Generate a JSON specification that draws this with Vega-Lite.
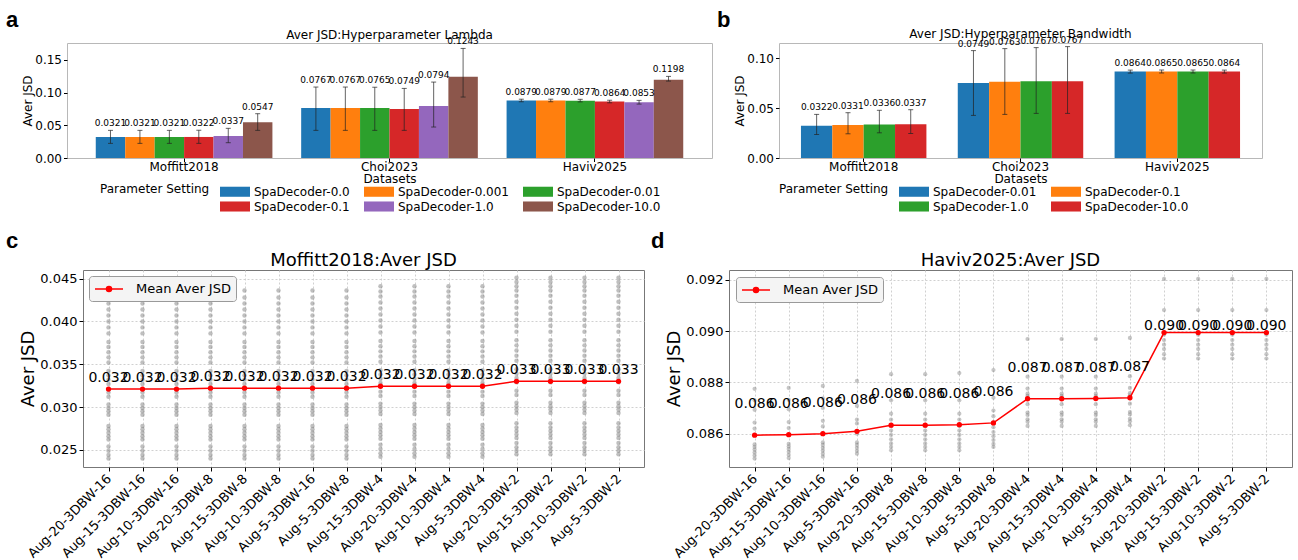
{
"$schema":"https://vega.github.io/schema/vega-lite/v6.json",
"padding":{"left":6,"top":9,"right":0,"bottom":0},
"background":"white",
"datasets":{
"a":[
{"ds":"Moffitt2018","set":"SpaDecoder-0.0","v":0.0321,"lo":0.0224,"hi":0.0423},
{"ds":"Moffitt2018","set":"SpaDecoder-0.001","v":0.0321,"lo":0.0224,"hi":0.0423},
{"ds":"Moffitt2018","set":"SpaDecoder-0.01","v":0.0321,"lo":0.0224,"hi":0.0423},
{"ds":"Moffitt2018","set":"SpaDecoder-0.1","v":0.0322,"lo":0.0224,"hi":0.0425},
{"ds":"Moffitt2018","set":"SpaDecoder-1.0","v":0.0337,"lo":0.0234,"hi":0.0454},
{"ds":"Moffitt2018","set":"SpaDecoder-10.0","v":0.0547,"lo":0.0423,"hi":0.0678},
{"ds":"Choi2023","set":"SpaDecoder-0.0","v":0.0767,"lo":0.0423,"hi":0.1086},
{"ds":"Choi2023","set":"SpaDecoder-0.001","v":0.0767,"lo":0.0423,"hi":0.1086},
{"ds":"Choi2023","set":"SpaDecoder-0.01","v":0.0765,"lo":0.0423,"hi":0.1083},
{"ds":"Choi2023","set":"SpaDecoder-0.1","v":0.0749,"lo":0.0423,"hi":0.1065},
{"ds":"Choi2023","set":"SpaDecoder-1.0","v":0.0794,"lo":0.0474,"hi":0.1162},
{"ds":"Choi2023","set":"SpaDecoder-10.0","v":0.1243,"lo":0.0933,"hi":0.1677},
{"ds":"Haviv2025","set":"SpaDecoder-0.0","v":0.0879,"lo":0.0861,"hi":0.09},
{"ds":"Haviv2025","set":"SpaDecoder-0.001","v":0.0879,"lo":0.0861,"hi":0.09},
{"ds":"Haviv2025","set":"SpaDecoder-0.01","v":0.0877,"lo":0.0859,"hi":0.0898},
{"ds":"Haviv2025","set":"SpaDecoder-0.1","v":0.0864,"lo":0.0845,"hi":0.0884},
{"ds":"Haviv2025","set":"SpaDecoder-1.0","v":0.0853,"lo":0.0825,"hi":0.0882},
{"ds":"Haviv2025","set":"SpaDecoder-10.0","v":0.1198,"lo":0.1177,"hi":0.1249}
],
"b":[
{"ds":"Moffitt2018","set":"SpaDecoder-0.01","v":0.0322,"lo":0.0235,"hi":0.0436},
{"ds":"Moffitt2018","set":"SpaDecoder-0.1","v":0.0331,"lo":0.0242,"hi":0.0453},
{"ds":"Moffitt2018","set":"SpaDecoder-1.0","v":0.0336,"lo":0.0252,"hi":0.0477},
{"ds":"Moffitt2018","set":"SpaDecoder-10.0","v":0.0337,"lo":0.0245,"hi":0.0483},
{"ds":"Choi2023","set":"SpaDecoder-0.01","v":0.0749,"lo":0.0426,"hi":0.1074},
{"ds":"Choi2023","set":"SpaDecoder-0.1","v":0.0763,"lo":0.0436,"hi":0.1094},
{"ds":"Choi2023","set":"SpaDecoder-1.0","v":0.0767,"lo":0.0446,"hi":0.1104},
{"ds":"Choi2023","set":"SpaDecoder-10.0","v":0.0767,"lo":0.0446,"hi":0.1114},
{"ds":"Haviv2025","set":"SpaDecoder-0.01","v":0.0864,"lo":0.0849,"hi":0.0879},
{"ds":"Haviv2025","set":"SpaDecoder-0.1","v":0.0865,"lo":0.085,"hi":0.088},
{"ds":"Haviv2025","set":"SpaDecoder-1.0","v":0.0865,"lo":0.085,"hi":0.088},
{"ds":"Haviv2025","set":"SpaDecoder-10.0","v":0.0864,"lo":0.0849,"hi":0.0879}
],
"cm":[
{"k":"Aug-20-3DBW-16","v":0.0321},{"k":"Aug-15-3DBW-16","v":0.0321},{"k":"Aug-10-3DBW-16","v":0.0321},{"k":"Aug-20-3DBW-8","v":0.0322},{"k":"Aug-15-3DBW-8","v":0.0322},{"k":"Aug-10-3DBW-8","v":0.0322},{"k":"Aug-5-3DBW-16","v":0.0322},{"k":"Aug-5-3DBW-8","v":0.0322},{"k":"Aug-15-3DBW-4","v":0.03243},{"k":"Aug-20-3DBW-4","v":0.03243},{"k":"Aug-10-3DBW-4","v":0.03243},{"k":"Aug-5-3DBW-4","v":0.03243},{"k":"Aug-20-3DBW-2","v":0.033},{"k":"Aug-15-3DBW-2","v":0.033},{"k":"Aug-10-3DBW-2","v":0.033},{"k":"Aug-5-3DBW-2","v":0.033}
],
"dm":[
{"k":"Aug-20-3DBW-16","v":0.08594},{"k":"Aug-15-3DBW-16","v":0.08596},{"k":"Aug-10-3DBW-16","v":0.086},{"k":"Aug-5-3DBW-16","v":0.08609},{"k":"Aug-20-3DBW-8","v":0.08633},{"k":"Aug-15-3DBW-8","v":0.08633},{"k":"Aug-10-3DBW-8","v":0.08635},{"k":"Aug-5-3DBW-8","v":0.08642},{"k":"Aug-20-3DBW-4","v":0.08736},{"k":"Aug-15-3DBW-4","v":0.08736},{"k":"Aug-10-3DBW-4","v":0.08737},{"k":"Aug-5-3DBW-4","v":0.0874},{"k":"Aug-20-3DBW-2","v":0.08994},{"k":"Aug-15-3DBW-2","v":0.08994},{"k":"Aug-10-3DBW-2","v":0.08994},{"k":"Aug-5-3DBW-2","v":0.08994}
],
"cp":[
{"k":"Aug-20-3DBW-16","v":0.024},{"k":"Aug-20-3DBW-16","v":0.0244},{"k":"Aug-20-3DBW-16","v":0.0249},{"k":"Aug-20-3DBW-16","v":0.0254},{"k":"Aug-20-3DBW-16","v":0.0262},{"k":"Aug-20-3DBW-16","v":0.0266},{"k":"Aug-20-3DBW-16","v":0.027},{"k":"Aug-20-3DBW-16","v":0.0274},{"k":"Aug-20-3DBW-16","v":0.0278},{"k":"Aug-20-3DBW-16","v":0.0291},{"k":"Aug-20-3DBW-16","v":0.0295},{"k":"Aug-20-3DBW-16","v":0.0299},{"k":"Aug-20-3DBW-16","v":0.0303},{"k":"Aug-20-3DBW-16","v":0.0312},{"k":"Aug-20-3DBW-16","v":0.0317},{"k":"Aug-20-3DBW-16","v":0.0327},{"k":"Aug-20-3DBW-16","v":0.0332},{"k":"Aug-20-3DBW-16","v":0.0337},{"k":"Aug-20-3DBW-16","v":0.0342},{"k":"Aug-20-3DBW-16","v":0.0352},{"k":"Aug-20-3DBW-16","v":0.0358},{"k":"Aug-20-3DBW-16","v":0.0364},{"k":"Aug-20-3DBW-16","v":0.037},{"k":"Aug-20-3DBW-16","v":0.0376},{"k":"Aug-20-3DBW-16","v":0.0386},{"k":"Aug-20-3DBW-16","v":0.0393},{"k":"Aug-20-3DBW-16","v":0.04},{"k":"Aug-20-3DBW-16","v":0.0407},{"k":"Aug-20-3DBW-16","v":0.0414},{"k":"Aug-20-3DBW-16","v":0.0421},
{"k":"Aug-15-3DBW-16","v":0.024},{"k":"Aug-15-3DBW-16","v":0.0244},{"k":"Aug-15-3DBW-16","v":0.0249},{"k":"Aug-15-3DBW-16","v":0.0254},{"k":"Aug-15-3DBW-16","v":0.0262},{"k":"Aug-15-3DBW-16","v":0.0266},{"k":"Aug-15-3DBW-16","v":0.027},{"k":"Aug-15-3DBW-16","v":0.0274},{"k":"Aug-15-3DBW-16","v":0.0278},{"k":"Aug-15-3DBW-16","v":0.0291},{"k":"Aug-15-3DBW-16","v":0.0295},{"k":"Aug-15-3DBW-16","v":0.0299},{"k":"Aug-15-3DBW-16","v":0.0303},{"k":"Aug-15-3DBW-16","v":0.0312},{"k":"Aug-15-3DBW-16","v":0.0317},{"k":"Aug-15-3DBW-16","v":0.0327},{"k":"Aug-15-3DBW-16","v":0.0332},{"k":"Aug-15-3DBW-16","v":0.0337},{"k":"Aug-15-3DBW-16","v":0.0342},{"k":"Aug-15-3DBW-16","v":0.0352},{"k":"Aug-15-3DBW-16","v":0.0358},{"k":"Aug-15-3DBW-16","v":0.0364},{"k":"Aug-15-3DBW-16","v":0.037},{"k":"Aug-15-3DBW-16","v":0.0376},{"k":"Aug-15-3DBW-16","v":0.0386},{"k":"Aug-15-3DBW-16","v":0.0393},{"k":"Aug-15-3DBW-16","v":0.04},{"k":"Aug-15-3DBW-16","v":0.0407},{"k":"Aug-15-3DBW-16","v":0.0414},{"k":"Aug-15-3DBW-16","v":0.0421},
{"k":"Aug-10-3DBW-16","v":0.024},{"k":"Aug-10-3DBW-16","v":0.0244},{"k":"Aug-10-3DBW-16","v":0.0249},{"k":"Aug-10-3DBW-16","v":0.0254},{"k":"Aug-10-3DBW-16","v":0.0262},{"k":"Aug-10-3DBW-16","v":0.0266},{"k":"Aug-10-3DBW-16","v":0.027},{"k":"Aug-10-3DBW-16","v":0.0274},{"k":"Aug-10-3DBW-16","v":0.0278},{"k":"Aug-10-3DBW-16","v":0.0291},{"k":"Aug-10-3DBW-16","v":0.0295},{"k":"Aug-10-3DBW-16","v":0.0299},{"k":"Aug-10-3DBW-16","v":0.0303},{"k":"Aug-10-3DBW-16","v":0.0312},{"k":"Aug-10-3DBW-16","v":0.0317},{"k":"Aug-10-3DBW-16","v":0.0327},{"k":"Aug-10-3DBW-16","v":0.0332},{"k":"Aug-10-3DBW-16","v":0.0337},{"k":"Aug-10-3DBW-16","v":0.0342},{"k":"Aug-10-3DBW-16","v":0.0352},{"k":"Aug-10-3DBW-16","v":0.0358},{"k":"Aug-10-3DBW-16","v":0.0364},{"k":"Aug-10-3DBW-16","v":0.037},{"k":"Aug-10-3DBW-16","v":0.0376},{"k":"Aug-10-3DBW-16","v":0.0386},{"k":"Aug-10-3DBW-16","v":0.0393},{"k":"Aug-10-3DBW-16","v":0.04},{"k":"Aug-10-3DBW-16","v":0.0407},{"k":"Aug-10-3DBW-16","v":0.0414},{"k":"Aug-10-3DBW-16","v":0.0421},
{"k":"Aug-20-3DBW-8","v":0.024},{"k":"Aug-20-3DBW-8","v":0.0244},{"k":"Aug-20-3DBW-8","v":0.0249},{"k":"Aug-20-3DBW-8","v":0.0254},{"k":"Aug-20-3DBW-8","v":0.0262},{"k":"Aug-20-3DBW-8","v":0.0266},{"k":"Aug-20-3DBW-8","v":0.027},{"k":"Aug-20-3DBW-8","v":0.0274},{"k":"Aug-20-3DBW-8","v":0.0278},{"k":"Aug-20-3DBW-8","v":0.0291},{"k":"Aug-20-3DBW-8","v":0.0295},{"k":"Aug-20-3DBW-8","v":0.0299},{"k":"Aug-20-3DBW-8","v":0.0303},{"k":"Aug-20-3DBW-8","v":0.0312},{"k":"Aug-20-3DBW-8","v":0.0317},{"k":"Aug-20-3DBW-8","v":0.0327},{"k":"Aug-20-3DBW-8","v":0.0332},{"k":"Aug-20-3DBW-8","v":0.0337},{"k":"Aug-20-3DBW-8","v":0.0342},{"k":"Aug-20-3DBW-8","v":0.0352},{"k":"Aug-20-3DBW-8","v":0.0358},{"k":"Aug-20-3DBW-8","v":0.0364},{"k":"Aug-20-3DBW-8","v":0.037},{"k":"Aug-20-3DBW-8","v":0.0376},{"k":"Aug-20-3DBW-8","v":0.0386},{"k":"Aug-20-3DBW-8","v":0.0393},{"k":"Aug-20-3DBW-8","v":0.04},{"k":"Aug-20-3DBW-8","v":0.0407},{"k":"Aug-20-3DBW-8","v":0.0414},{"k":"Aug-20-3DBW-8","v":0.0421},{"k":"Aug-20-3DBW-8","v":0.0428},{"k":"Aug-20-3DBW-8","v":0.0436},
{"k":"Aug-15-3DBW-8","v":0.024},{"k":"Aug-15-3DBW-8","v":0.0244},{"k":"Aug-15-3DBW-8","v":0.0249},{"k":"Aug-15-3DBW-8","v":0.0254},{"k":"Aug-15-3DBW-8","v":0.0262},{"k":"Aug-15-3DBW-8","v":0.0266},{"k":"Aug-15-3DBW-8","v":0.027},{"k":"Aug-15-3DBW-8","v":0.0274},{"k":"Aug-15-3DBW-8","v":0.0278},{"k":"Aug-15-3DBW-8","v":0.0291},{"k":"Aug-15-3DBW-8","v":0.0295},{"k":"Aug-15-3DBW-8","v":0.0299},{"k":"Aug-15-3DBW-8","v":0.0303},{"k":"Aug-15-3DBW-8","v":0.0312},{"k":"Aug-15-3DBW-8","v":0.0317},{"k":"Aug-15-3DBW-8","v":0.0327},{"k":"Aug-15-3DBW-8","v":0.0332},{"k":"Aug-15-3DBW-8","v":0.0337},{"k":"Aug-15-3DBW-8","v":0.0342},{"k":"Aug-15-3DBW-8","v":0.0352},{"k":"Aug-15-3DBW-8","v":0.0358},{"k":"Aug-15-3DBW-8","v":0.0364},{"k":"Aug-15-3DBW-8","v":0.037},{"k":"Aug-15-3DBW-8","v":0.0376},{"k":"Aug-15-3DBW-8","v":0.0386},{"k":"Aug-15-3DBW-8","v":0.0393},{"k":"Aug-15-3DBW-8","v":0.04},{"k":"Aug-15-3DBW-8","v":0.0407},{"k":"Aug-15-3DBW-8","v":0.0414},{"k":"Aug-15-3DBW-8","v":0.0421},{"k":"Aug-15-3DBW-8","v":0.0428},{"k":"Aug-15-3DBW-8","v":0.0436},
{"k":"Aug-10-3DBW-8","v":0.024},{"k":"Aug-10-3DBW-8","v":0.0244},{"k":"Aug-10-3DBW-8","v":0.0249},{"k":"Aug-10-3DBW-8","v":0.0254},{"k":"Aug-10-3DBW-8","v":0.0262},{"k":"Aug-10-3DBW-8","v":0.0266},{"k":"Aug-10-3DBW-8","v":0.027},{"k":"Aug-10-3DBW-8","v":0.0274},{"k":"Aug-10-3DBW-8","v":0.0278},{"k":"Aug-10-3DBW-8","v":0.0291},{"k":"Aug-10-3DBW-8","v":0.0295},{"k":"Aug-10-3DBW-8","v":0.0299},{"k":"Aug-10-3DBW-8","v":0.0303},{"k":"Aug-10-3DBW-8","v":0.0312},{"k":"Aug-10-3DBW-8","v":0.0317},{"k":"Aug-10-3DBW-8","v":0.0327},{"k":"Aug-10-3DBW-8","v":0.0332},{"k":"Aug-10-3DBW-8","v":0.0337},{"k":"Aug-10-3DBW-8","v":0.0342},{"k":"Aug-10-3DBW-8","v":0.0352},{"k":"Aug-10-3DBW-8","v":0.0358},{"k":"Aug-10-3DBW-8","v":0.0364},{"k":"Aug-10-3DBW-8","v":0.037},{"k":"Aug-10-3DBW-8","v":0.0376},{"k":"Aug-10-3DBW-8","v":0.0386},{"k":"Aug-10-3DBW-8","v":0.0393},{"k":"Aug-10-3DBW-8","v":0.04},{"k":"Aug-10-3DBW-8","v":0.0407},{"k":"Aug-10-3DBW-8","v":0.0414},{"k":"Aug-10-3DBW-8","v":0.0421},{"k":"Aug-10-3DBW-8","v":0.0428},{"k":"Aug-10-3DBW-8","v":0.0436},
{"k":"Aug-5-3DBW-16","v":0.024},{"k":"Aug-5-3DBW-16","v":0.0244},{"k":"Aug-5-3DBW-16","v":0.0249},{"k":"Aug-5-3DBW-16","v":0.0254},{"k":"Aug-5-3DBW-16","v":0.0262},{"k":"Aug-5-3DBW-16","v":0.0266},{"k":"Aug-5-3DBW-16","v":0.027},{"k":"Aug-5-3DBW-16","v":0.0274},{"k":"Aug-5-3DBW-16","v":0.0278},{"k":"Aug-5-3DBW-16","v":0.0291},{"k":"Aug-5-3DBW-16","v":0.0295},{"k":"Aug-5-3DBW-16","v":0.0299},{"k":"Aug-5-3DBW-16","v":0.0303},{"k":"Aug-5-3DBW-16","v":0.0312},{"k":"Aug-5-3DBW-16","v":0.0317},{"k":"Aug-5-3DBW-16","v":0.0327},{"k":"Aug-5-3DBW-16","v":0.0332},{"k":"Aug-5-3DBW-16","v":0.0337},{"k":"Aug-5-3DBW-16","v":0.0342},{"k":"Aug-5-3DBW-16","v":0.0352},{"k":"Aug-5-3DBW-16","v":0.0358},{"k":"Aug-5-3DBW-16","v":0.0364},{"k":"Aug-5-3DBW-16","v":0.037},{"k":"Aug-5-3DBW-16","v":0.0376},{"k":"Aug-5-3DBW-16","v":0.0386},{"k":"Aug-5-3DBW-16","v":0.0393},{"k":"Aug-5-3DBW-16","v":0.04},{"k":"Aug-5-3DBW-16","v":0.0407},{"k":"Aug-5-3DBW-16","v":0.0414},{"k":"Aug-5-3DBW-16","v":0.0421},{"k":"Aug-5-3DBW-16","v":0.0428},{"k":"Aug-5-3DBW-16","v":0.0436},
{"k":"Aug-5-3DBW-8","v":0.024},{"k":"Aug-5-3DBW-8","v":0.0244},{"k":"Aug-5-3DBW-8","v":0.0249},{"k":"Aug-5-3DBW-8","v":0.0254},{"k":"Aug-5-3DBW-8","v":0.0262},{"k":"Aug-5-3DBW-8","v":0.0266},{"k":"Aug-5-3DBW-8","v":0.027},{"k":"Aug-5-3DBW-8","v":0.0274},{"k":"Aug-5-3DBW-8","v":0.0278},{"k":"Aug-5-3DBW-8","v":0.0291},{"k":"Aug-5-3DBW-8","v":0.0295},{"k":"Aug-5-3DBW-8","v":0.0299},{"k":"Aug-5-3DBW-8","v":0.0303},{"k":"Aug-5-3DBW-8","v":0.0312},{"k":"Aug-5-3DBW-8","v":0.0317},{"k":"Aug-5-3DBW-8","v":0.0327},{"k":"Aug-5-3DBW-8","v":0.0332},{"k":"Aug-5-3DBW-8","v":0.0337},{"k":"Aug-5-3DBW-8","v":0.0342},{"k":"Aug-5-3DBW-8","v":0.0352},{"k":"Aug-5-3DBW-8","v":0.0358},{"k":"Aug-5-3DBW-8","v":0.0364},{"k":"Aug-5-3DBW-8","v":0.037},{"k":"Aug-5-3DBW-8","v":0.0376},{"k":"Aug-5-3DBW-8","v":0.0386},{"k":"Aug-5-3DBW-8","v":0.0393},{"k":"Aug-5-3DBW-8","v":0.04},{"k":"Aug-5-3DBW-8","v":0.0407},{"k":"Aug-5-3DBW-8","v":0.0414},{"k":"Aug-5-3DBW-8","v":0.0421},{"k":"Aug-5-3DBW-8","v":0.0428},{"k":"Aug-5-3DBW-8","v":0.0436},
{"k":"Aug-15-3DBW-4","v":0.0242},{"k":"Aug-15-3DBW-4","v":0.0246},{"k":"Aug-15-3DBW-4","v":0.0251},{"k":"Aug-15-3DBW-4","v":0.0256},{"k":"Aug-15-3DBW-4","v":0.0263},{"k":"Aug-15-3DBW-4","v":0.0267},{"k":"Aug-15-3DBW-4","v":0.0271},{"k":"Aug-15-3DBW-4","v":0.0275},{"k":"Aug-15-3DBW-4","v":0.0279},{"k":"Aug-15-3DBW-4","v":0.0292},{"k":"Aug-15-3DBW-4","v":0.0296},{"k":"Aug-15-3DBW-4","v":0.03},{"k":"Aug-15-3DBW-4","v":0.0304},{"k":"Aug-15-3DBW-4","v":0.0313},{"k":"Aug-15-3DBW-4","v":0.0318},{"k":"Aug-15-3DBW-4","v":0.0328},{"k":"Aug-15-3DBW-4","v":0.0333},{"k":"Aug-15-3DBW-4","v":0.0338},{"k":"Aug-15-3DBW-4","v":0.0343},{"k":"Aug-15-3DBW-4","v":0.0353},{"k":"Aug-15-3DBW-4","v":0.0359},{"k":"Aug-15-3DBW-4","v":0.0365},{"k":"Aug-15-3DBW-4","v":0.0371},{"k":"Aug-15-3DBW-4","v":0.0377},{"k":"Aug-15-3DBW-4","v":0.0387},{"k":"Aug-15-3DBW-4","v":0.0394},{"k":"Aug-15-3DBW-4","v":0.0401},{"k":"Aug-15-3DBW-4","v":0.0408},{"k":"Aug-15-3DBW-4","v":0.0415},{"k":"Aug-15-3DBW-4","v":0.0422},{"k":"Aug-15-3DBW-4","v":0.0429},{"k":"Aug-15-3DBW-4","v":0.0435},{"k":"Aug-15-3DBW-4","v":0.0441},
{"k":"Aug-20-3DBW-4","v":0.0242},{"k":"Aug-20-3DBW-4","v":0.0246},{"k":"Aug-20-3DBW-4","v":0.0251},{"k":"Aug-20-3DBW-4","v":0.0256},{"k":"Aug-20-3DBW-4","v":0.0263},{"k":"Aug-20-3DBW-4","v":0.0267},{"k":"Aug-20-3DBW-4","v":0.0271},{"k":"Aug-20-3DBW-4","v":0.0275},{"k":"Aug-20-3DBW-4","v":0.0279},{"k":"Aug-20-3DBW-4","v":0.0292},{"k":"Aug-20-3DBW-4","v":0.0296},{"k":"Aug-20-3DBW-4","v":0.03},{"k":"Aug-20-3DBW-4","v":0.0304},{"k":"Aug-20-3DBW-4","v":0.0313},{"k":"Aug-20-3DBW-4","v":0.0318},{"k":"Aug-20-3DBW-4","v":0.0328},{"k":"Aug-20-3DBW-4","v":0.0333},{"k":"Aug-20-3DBW-4","v":0.0338},{"k":"Aug-20-3DBW-4","v":0.0343},{"k":"Aug-20-3DBW-4","v":0.0353},{"k":"Aug-20-3DBW-4","v":0.0359},{"k":"Aug-20-3DBW-4","v":0.0365},{"k":"Aug-20-3DBW-4","v":0.0371},{"k":"Aug-20-3DBW-4","v":0.0377},{"k":"Aug-20-3DBW-4","v":0.0387},{"k":"Aug-20-3DBW-4","v":0.0394},{"k":"Aug-20-3DBW-4","v":0.0401},{"k":"Aug-20-3DBW-4","v":0.0408},{"k":"Aug-20-3DBW-4","v":0.0415},{"k":"Aug-20-3DBW-4","v":0.0422},{"k":"Aug-20-3DBW-4","v":0.0429},{"k":"Aug-20-3DBW-4","v":0.0435},{"k":"Aug-20-3DBW-4","v":0.0441},
{"k":"Aug-10-3DBW-4","v":0.0242},{"k":"Aug-10-3DBW-4","v":0.0246},{"k":"Aug-10-3DBW-4","v":0.0251},{"k":"Aug-10-3DBW-4","v":0.0256},{"k":"Aug-10-3DBW-4","v":0.0263},{"k":"Aug-10-3DBW-4","v":0.0267},{"k":"Aug-10-3DBW-4","v":0.0271},{"k":"Aug-10-3DBW-4","v":0.0275},{"k":"Aug-10-3DBW-4","v":0.0279},{"k":"Aug-10-3DBW-4","v":0.0292},{"k":"Aug-10-3DBW-4","v":0.0296},{"k":"Aug-10-3DBW-4","v":0.03},{"k":"Aug-10-3DBW-4","v":0.0304},{"k":"Aug-10-3DBW-4","v":0.0313},{"k":"Aug-10-3DBW-4","v":0.0318},{"k":"Aug-10-3DBW-4","v":0.0328},{"k":"Aug-10-3DBW-4","v":0.0333},{"k":"Aug-10-3DBW-4","v":0.0338},{"k":"Aug-10-3DBW-4","v":0.0343},{"k":"Aug-10-3DBW-4","v":0.0353},{"k":"Aug-10-3DBW-4","v":0.0359},{"k":"Aug-10-3DBW-4","v":0.0365},{"k":"Aug-10-3DBW-4","v":0.0371},{"k":"Aug-10-3DBW-4","v":0.0377},{"k":"Aug-10-3DBW-4","v":0.0387},{"k":"Aug-10-3DBW-4","v":0.0394},{"k":"Aug-10-3DBW-4","v":0.0401},{"k":"Aug-10-3DBW-4","v":0.0408},{"k":"Aug-10-3DBW-4","v":0.0415},{"k":"Aug-10-3DBW-4","v":0.0422},{"k":"Aug-10-3DBW-4","v":0.0429},{"k":"Aug-10-3DBW-4","v":0.0435},{"k":"Aug-10-3DBW-4","v":0.0441},
{"k":"Aug-5-3DBW-4","v":0.0242},{"k":"Aug-5-3DBW-4","v":0.0246},{"k":"Aug-5-3DBW-4","v":0.0251},{"k":"Aug-5-3DBW-4","v":0.0256},{"k":"Aug-5-3DBW-4","v":0.0263},{"k":"Aug-5-3DBW-4","v":0.0267},{"k":"Aug-5-3DBW-4","v":0.0271},{"k":"Aug-5-3DBW-4","v":0.0275},{"k":"Aug-5-3DBW-4","v":0.0279},{"k":"Aug-5-3DBW-4","v":0.0292},{"k":"Aug-5-3DBW-4","v":0.0296},{"k":"Aug-5-3DBW-4","v":0.03},{"k":"Aug-5-3DBW-4","v":0.0304},{"k":"Aug-5-3DBW-4","v":0.0313},{"k":"Aug-5-3DBW-4","v":0.0318},{"k":"Aug-5-3DBW-4","v":0.0328},{"k":"Aug-5-3DBW-4","v":0.0333},{"k":"Aug-5-3DBW-4","v":0.0338},{"k":"Aug-5-3DBW-4","v":0.0343},{"k":"Aug-5-3DBW-4","v":0.0353},{"k":"Aug-5-3DBW-4","v":0.0359},{"k":"Aug-5-3DBW-4","v":0.0365},{"k":"Aug-5-3DBW-4","v":0.0371},{"k":"Aug-5-3DBW-4","v":0.0377},{"k":"Aug-5-3DBW-4","v":0.0387},{"k":"Aug-5-3DBW-4","v":0.0394},{"k":"Aug-5-3DBW-4","v":0.0401},{"k":"Aug-5-3DBW-4","v":0.0408},{"k":"Aug-5-3DBW-4","v":0.0415},{"k":"Aug-5-3DBW-4","v":0.0422},{"k":"Aug-5-3DBW-4","v":0.0429},{"k":"Aug-5-3DBW-4","v":0.0435},{"k":"Aug-5-3DBW-4","v":0.0441},
{"k":"Aug-20-3DBW-2","v":0.0245},{"k":"Aug-20-3DBW-2","v":0.0249},{"k":"Aug-20-3DBW-2","v":0.0253},{"k":"Aug-20-3DBW-2","v":0.0258},{"k":"Aug-20-3DBW-2","v":0.0264},{"k":"Aug-20-3DBW-2","v":0.0268},{"k":"Aug-20-3DBW-2","v":0.0272},{"k":"Aug-20-3DBW-2","v":0.0276},{"k":"Aug-20-3DBW-2","v":0.0281},{"k":"Aug-20-3DBW-2","v":0.0293},{"k":"Aug-20-3DBW-2","v":0.0297},{"k":"Aug-20-3DBW-2","v":0.0301},{"k":"Aug-20-3DBW-2","v":0.0305},{"k":"Aug-20-3DBW-2","v":0.0314},{"k":"Aug-20-3DBW-2","v":0.0319},{"k":"Aug-20-3DBW-2","v":0.0329},{"k":"Aug-20-3DBW-2","v":0.0334},{"k":"Aug-20-3DBW-2","v":0.0339},{"k":"Aug-20-3DBW-2","v":0.0344},{"k":"Aug-20-3DBW-2","v":0.0354},{"k":"Aug-20-3DBW-2","v":0.036},{"k":"Aug-20-3DBW-2","v":0.0366},{"k":"Aug-20-3DBW-2","v":0.0372},{"k":"Aug-20-3DBW-2","v":0.0378},{"k":"Aug-20-3DBW-2","v":0.0388},{"k":"Aug-20-3DBW-2","v":0.0395},{"k":"Aug-20-3DBW-2","v":0.0402},{"k":"Aug-20-3DBW-2","v":0.0409},{"k":"Aug-20-3DBW-2","v":0.0416},{"k":"Aug-20-3DBW-2","v":0.0423},{"k":"Aug-20-3DBW-2","v":0.043},{"k":"Aug-20-3DBW-2","v":0.0436},{"k":"Aug-20-3DBW-2","v":0.0441},{"k":"Aug-20-3DBW-2","v":0.0446},{"k":"Aug-20-3DBW-2","v":0.0451},
{"k":"Aug-15-3DBW-2","v":0.0245},{"k":"Aug-15-3DBW-2","v":0.0249},{"k":"Aug-15-3DBW-2","v":0.0253},{"k":"Aug-15-3DBW-2","v":0.0258},{"k":"Aug-15-3DBW-2","v":0.0264},{"k":"Aug-15-3DBW-2","v":0.0268},{"k":"Aug-15-3DBW-2","v":0.0272},{"k":"Aug-15-3DBW-2","v":0.0276},{"k":"Aug-15-3DBW-2","v":0.0281},{"k":"Aug-15-3DBW-2","v":0.0293},{"k":"Aug-15-3DBW-2","v":0.0297},{"k":"Aug-15-3DBW-2","v":0.0301},{"k":"Aug-15-3DBW-2","v":0.0305},{"k":"Aug-15-3DBW-2","v":0.0314},{"k":"Aug-15-3DBW-2","v":0.0319},{"k":"Aug-15-3DBW-2","v":0.0329},{"k":"Aug-15-3DBW-2","v":0.0334},{"k":"Aug-15-3DBW-2","v":0.0339},{"k":"Aug-15-3DBW-2","v":0.0344},{"k":"Aug-15-3DBW-2","v":0.0354},{"k":"Aug-15-3DBW-2","v":0.036},{"k":"Aug-15-3DBW-2","v":0.0366},{"k":"Aug-15-3DBW-2","v":0.0372},{"k":"Aug-15-3DBW-2","v":0.0378},{"k":"Aug-15-3DBW-2","v":0.0388},{"k":"Aug-15-3DBW-2","v":0.0395},{"k":"Aug-15-3DBW-2","v":0.0402},{"k":"Aug-15-3DBW-2","v":0.0409},{"k":"Aug-15-3DBW-2","v":0.0416},{"k":"Aug-15-3DBW-2","v":0.0423},{"k":"Aug-15-3DBW-2","v":0.043},{"k":"Aug-15-3DBW-2","v":0.0436},{"k":"Aug-15-3DBW-2","v":0.0441},{"k":"Aug-15-3DBW-2","v":0.0446},{"k":"Aug-15-3DBW-2","v":0.0451},
{"k":"Aug-10-3DBW-2","v":0.0245},{"k":"Aug-10-3DBW-2","v":0.0249},{"k":"Aug-10-3DBW-2","v":0.0253},{"k":"Aug-10-3DBW-2","v":0.0258},{"k":"Aug-10-3DBW-2","v":0.0264},{"k":"Aug-10-3DBW-2","v":0.0268},{"k":"Aug-10-3DBW-2","v":0.0272},{"k":"Aug-10-3DBW-2","v":0.0276},{"k":"Aug-10-3DBW-2","v":0.0281},{"k":"Aug-10-3DBW-2","v":0.0293},{"k":"Aug-10-3DBW-2","v":0.0297},{"k":"Aug-10-3DBW-2","v":0.0301},{"k":"Aug-10-3DBW-2","v":0.0305},{"k":"Aug-10-3DBW-2","v":0.0314},{"k":"Aug-10-3DBW-2","v":0.0319},{"k":"Aug-10-3DBW-2","v":0.0329},{"k":"Aug-10-3DBW-2","v":0.0334},{"k":"Aug-10-3DBW-2","v":0.0339},{"k":"Aug-10-3DBW-2","v":0.0344},{"k":"Aug-10-3DBW-2","v":0.0354},{"k":"Aug-10-3DBW-2","v":0.036},{"k":"Aug-10-3DBW-2","v":0.0366},{"k":"Aug-10-3DBW-2","v":0.0372},{"k":"Aug-10-3DBW-2","v":0.0378},{"k":"Aug-10-3DBW-2","v":0.0388},{"k":"Aug-10-3DBW-2","v":0.0395},{"k":"Aug-10-3DBW-2","v":0.0402},{"k":"Aug-10-3DBW-2","v":0.0409},{"k":"Aug-10-3DBW-2","v":0.0416},{"k":"Aug-10-3DBW-2","v":0.0423},{"k":"Aug-10-3DBW-2","v":0.043},{"k":"Aug-10-3DBW-2","v":0.0436},{"k":"Aug-10-3DBW-2","v":0.0441},{"k":"Aug-10-3DBW-2","v":0.0446},{"k":"Aug-10-3DBW-2","v":0.0451},
{"k":"Aug-5-3DBW-2","v":0.0245},{"k":"Aug-5-3DBW-2","v":0.0249},{"k":"Aug-5-3DBW-2","v":0.0253},{"k":"Aug-5-3DBW-2","v":0.0258},{"k":"Aug-5-3DBW-2","v":0.0264},{"k":"Aug-5-3DBW-2","v":0.0268},{"k":"Aug-5-3DBW-2","v":0.0272},{"k":"Aug-5-3DBW-2","v":0.0276},{"k":"Aug-5-3DBW-2","v":0.0281},{"k":"Aug-5-3DBW-2","v":0.0293},{"k":"Aug-5-3DBW-2","v":0.0297},{"k":"Aug-5-3DBW-2","v":0.0301},{"k":"Aug-5-3DBW-2","v":0.0305},{"k":"Aug-5-3DBW-2","v":0.0314},{"k":"Aug-5-3DBW-2","v":0.0319},{"k":"Aug-5-3DBW-2","v":0.0329},{"k":"Aug-5-3DBW-2","v":0.0334},{"k":"Aug-5-3DBW-2","v":0.0339},{"k":"Aug-5-3DBW-2","v":0.0344},{"k":"Aug-5-3DBW-2","v":0.0354},{"k":"Aug-5-3DBW-2","v":0.036},{"k":"Aug-5-3DBW-2","v":0.0366},{"k":"Aug-5-3DBW-2","v":0.0372},{"k":"Aug-5-3DBW-2","v":0.0378},{"k":"Aug-5-3DBW-2","v":0.0388},{"k":"Aug-5-3DBW-2","v":0.0395},{"k":"Aug-5-3DBW-2","v":0.0402},{"k":"Aug-5-3DBW-2","v":0.0409},{"k":"Aug-5-3DBW-2","v":0.0416},{"k":"Aug-5-3DBW-2","v":0.0423},{"k":"Aug-5-3DBW-2","v":0.043},{"k":"Aug-5-3DBW-2","v":0.0436},{"k":"Aug-5-3DBW-2","v":0.0441},{"k":"Aug-5-3DBW-2","v":0.0446},{"k":"Aug-5-3DBW-2","v":0.0451}
],
"dp":[
{"k":"Aug-20-3DBW-16","v":0.08503},{"k":"Aug-20-3DBW-16","v":0.08515},{"k":"Aug-20-3DBW-16","v":0.08527},{"k":"Aug-20-3DBW-16","v":0.08538},{"k":"Aug-20-3DBW-16","v":0.08548},{"k":"Aug-20-3DBW-16","v":0.08558},{"k":"Aug-20-3DBW-16","v":0.0862},{"k":"Aug-20-3DBW-16","v":0.08643},{"k":"Aug-20-3DBW-16","v":0.08693},{"k":"Aug-20-3DBW-16","v":0.0873},{"k":"Aug-20-3DBW-16","v":0.08775},
{"k":"Aug-15-3DBW-16","v":0.08505},{"k":"Aug-15-3DBW-16","v":0.08517},{"k":"Aug-15-3DBW-16","v":0.08529},{"k":"Aug-15-3DBW-16","v":0.0854},{"k":"Aug-15-3DBW-16","v":0.0855},{"k":"Aug-15-3DBW-16","v":0.0856},{"k":"Aug-15-3DBW-16","v":0.08622},{"k":"Aug-15-3DBW-16","v":0.08645},{"k":"Aug-15-3DBW-16","v":0.08695},{"k":"Aug-15-3DBW-16","v":0.08732},{"k":"Aug-15-3DBW-16","v":0.08778},
{"k":"Aug-10-3DBW-16","v":0.0851},{"k":"Aug-10-3DBW-16","v":0.08522},{"k":"Aug-10-3DBW-16","v":0.08534},{"k":"Aug-10-3DBW-16","v":0.08545},{"k":"Aug-10-3DBW-16","v":0.08556},{"k":"Aug-10-3DBW-16","v":0.08566},{"k":"Aug-10-3DBW-16","v":0.08628},{"k":"Aug-10-3DBW-16","v":0.0865},{"k":"Aug-10-3DBW-16","v":0.087},{"k":"Aug-10-3DBW-16","v":0.08738},{"k":"Aug-10-3DBW-16","v":0.08786},
{"k":"Aug-5-3DBW-16","v":0.08522},{"k":"Aug-5-3DBW-16","v":0.08533},{"k":"Aug-5-3DBW-16","v":0.08545},{"k":"Aug-5-3DBW-16","v":0.08556},{"k":"Aug-5-3DBW-16","v":0.08566},{"k":"Aug-5-3DBW-16","v":0.086},{"k":"Aug-5-3DBW-16","v":0.0864},{"k":"Aug-5-3DBW-16","v":0.08655},{"k":"Aug-5-3DBW-16","v":0.08708},{"k":"Aug-5-3DBW-16","v":0.08806},
{"k":"Aug-20-3DBW-8","v":0.08535},{"k":"Aug-20-3DBW-8","v":0.08548},{"k":"Aug-20-3DBW-8","v":0.08562},{"k":"Aug-20-3DBW-8","v":0.08578},{"k":"Aug-20-3DBW-8","v":0.08595},{"k":"Aug-20-3DBW-8","v":0.08612},{"k":"Aug-20-3DBW-8","v":0.0863},{"k":"Aug-20-3DBW-8","v":0.08655},{"k":"Aug-20-3DBW-8","v":0.08678},{"k":"Aug-20-3DBW-8","v":0.0873},{"k":"Aug-20-3DBW-8","v":0.08832},
{"k":"Aug-15-3DBW-8","v":0.08535},{"k":"Aug-15-3DBW-8","v":0.08548},{"k":"Aug-15-3DBW-8","v":0.08562},{"k":"Aug-15-3DBW-8","v":0.08578},{"k":"Aug-15-3DBW-8","v":0.08595},{"k":"Aug-15-3DBW-8","v":0.08612},{"k":"Aug-15-3DBW-8","v":0.0863},{"k":"Aug-15-3DBW-8","v":0.08655},{"k":"Aug-15-3DBW-8","v":0.08678},{"k":"Aug-15-3DBW-8","v":0.0873},{"k":"Aug-15-3DBW-8","v":0.08832},
{"k":"Aug-10-3DBW-8","v":0.08535},{"k":"Aug-10-3DBW-8","v":0.08548},{"k":"Aug-10-3DBW-8","v":0.08562},{"k":"Aug-10-3DBW-8","v":0.08578},{"k":"Aug-10-3DBW-8","v":0.08595},{"k":"Aug-10-3DBW-8","v":0.08612},{"k":"Aug-10-3DBW-8","v":0.0863},{"k":"Aug-10-3DBW-8","v":0.08655},{"k":"Aug-10-3DBW-8","v":0.08678},{"k":"Aug-10-3DBW-8","v":0.0873},{"k":"Aug-10-3DBW-8","v":0.08836},
{"k":"Aug-5-3DBW-8","v":0.08548},{"k":"Aug-5-3DBW-8","v":0.0856},{"k":"Aug-5-3DBW-8","v":0.08575},{"k":"Aug-5-3DBW-8","v":0.0859},{"k":"Aug-5-3DBW-8","v":0.08606},{"k":"Aug-5-3DBW-8","v":0.08625},{"k":"Aug-5-3DBW-8","v":0.08643},{"k":"Aug-5-3DBW-8","v":0.08668},{"k":"Aug-5-3DBW-8","v":0.0869},{"k":"Aug-5-3DBW-8","v":0.0874},{"k":"Aug-5-3DBW-8","v":0.08848},
{"k":"Aug-20-3DBW-4","v":0.0863},{"k":"Aug-20-3DBW-4","v":0.08646},{"k":"Aug-20-3DBW-4","v":0.08656},{"k":"Aug-20-3DBW-4","v":0.08673},{"k":"Aug-20-3DBW-4","v":0.08682},{"k":"Aug-20-3DBW-4","v":0.08715},{"k":"Aug-20-3DBW-4","v":0.08747},{"k":"Aug-20-3DBW-4","v":0.08756},{"k":"Aug-20-3DBW-4","v":0.08776},{"k":"Aug-20-3DBW-4","v":0.08822},{"k":"Aug-20-3DBW-4","v":0.08969},
{"k":"Aug-15-3DBW-4","v":0.0863},{"k":"Aug-15-3DBW-4","v":0.08646},{"k":"Aug-15-3DBW-4","v":0.08656},{"k":"Aug-15-3DBW-4","v":0.08673},{"k":"Aug-15-3DBW-4","v":0.08682},{"k":"Aug-15-3DBW-4","v":0.08715},{"k":"Aug-15-3DBW-4","v":0.08747},{"k":"Aug-15-3DBW-4","v":0.08756},{"k":"Aug-15-3DBW-4","v":0.08776},{"k":"Aug-15-3DBW-4","v":0.08822},{"k":"Aug-15-3DBW-4","v":0.08969},
{"k":"Aug-10-3DBW-4","v":0.0863},{"k":"Aug-10-3DBW-4","v":0.08646},{"k":"Aug-10-3DBW-4","v":0.08656},{"k":"Aug-10-3DBW-4","v":0.08673},{"k":"Aug-10-3DBW-4","v":0.08682},{"k":"Aug-10-3DBW-4","v":0.08715},{"k":"Aug-10-3DBW-4","v":0.08747},{"k":"Aug-10-3DBW-4","v":0.08756},{"k":"Aug-10-3DBW-4","v":0.08776},{"k":"Aug-10-3DBW-4","v":0.08822},{"k":"Aug-10-3DBW-4","v":0.08969},
{"k":"Aug-5-3DBW-4","v":0.08633},{"k":"Aug-5-3DBW-4","v":0.08648},{"k":"Aug-5-3DBW-4","v":0.08658},{"k":"Aug-5-3DBW-4","v":0.08675},{"k":"Aug-5-3DBW-4","v":0.08684},{"k":"Aug-5-3DBW-4","v":0.08717},{"k":"Aug-5-3DBW-4","v":0.08749},{"k":"Aug-5-3DBW-4","v":0.08758},{"k":"Aug-5-3DBW-4","v":0.08778},{"k":"Aug-5-3DBW-4","v":0.08824},{"k":"Aug-5-3DBW-4","v":0.08973},
{"k":"Aug-20-3DBW-2","v":0.08893},{"k":"Aug-20-3DBW-2","v":0.0891},{"k":"Aug-20-3DBW-2","v":0.0893},{"k":"Aug-20-3DBW-2","v":0.08947},{"k":"Aug-20-3DBW-2","v":0.08965},{"k":"Aug-20-3DBW-2","v":0.08986},{"k":"Aug-20-3DBW-2","v":0.08995},{"k":"Aug-20-3DBW-2","v":0.09082},{"k":"Aug-20-3DBW-2","v":0.09203},
{"k":"Aug-15-3DBW-2","v":0.08893},{"k":"Aug-15-3DBW-2","v":0.0891},{"k":"Aug-15-3DBW-2","v":0.0893},{"k":"Aug-15-3DBW-2","v":0.08947},{"k":"Aug-15-3DBW-2","v":0.08965},{"k":"Aug-15-3DBW-2","v":0.08986},{"k":"Aug-15-3DBW-2","v":0.08995},{"k":"Aug-15-3DBW-2","v":0.09082},{"k":"Aug-15-3DBW-2","v":0.09203},
{"k":"Aug-10-3DBW-2","v":0.08893},{"k":"Aug-10-3DBW-2","v":0.0891},{"k":"Aug-10-3DBW-2","v":0.0893},{"k":"Aug-10-3DBW-2","v":0.08947},{"k":"Aug-10-3DBW-2","v":0.08965},{"k":"Aug-10-3DBW-2","v":0.08986},{"k":"Aug-10-3DBW-2","v":0.08995},{"k":"Aug-10-3DBW-2","v":0.09082},{"k":"Aug-10-3DBW-2","v":0.09203},
{"k":"Aug-5-3DBW-2","v":0.08893},{"k":"Aug-5-3DBW-2","v":0.0891},{"k":"Aug-5-3DBW-2","v":0.0893},{"k":"Aug-5-3DBW-2","v":0.08947},{"k":"Aug-5-3DBW-2","v":0.08965},{"k":"Aug-5-3DBW-2","v":0.08986},{"k":"Aug-5-3DBW-2","v":0.08995},{"k":"Aug-5-3DBW-2","v":0.09082},{"k":"Aug-5-3DBW-2","v":0.09203}
]
},
"spacing":16,
"resolve":{"scale":{"color":"independent","xOffset":"independent"},"legend":{"color":"independent"}},
"vconcat":[
{"hconcat":[
{"width":13,"height":1,"data":{"values":[]},"mark":{"type":"text"},"encoding":{},"view":{"stroke":null},
 "title":{"text":"a","font":"Liberation Sans","fontSize":22,"fontWeight":"bold","anchor":"start","dx":0,"offset":11}},
{
 "width":645,"height":115,
 "data":{"name":"a"},
 "title":{"text":"Aver JSD:Hyperparameter Lambda","fontSize":12,"offset":-5},
 "view":{"stroke":"#b8b8b8"},
 "encoding":{
  "x":{"field":"ds","type":"nominal","sort":null,"scale":{"domain":["Moffitt2018","Choi2023","Haviv2025"],"paddingInner":0.14,"paddingOuter":0.14},"axis":{"title":"Datasets","labelAngle":0,"labelFontSize":12,"titleFontSize":12,"tickSize":3.5,"labelPadding":0,"titlePadding":1}},
  "xOffset":{"field":"set","type":"nominal","sort":null,"scale":{"domain":["SpaDecoder-0.0","SpaDecoder-0.001","SpaDecoder-0.01","SpaDecoder-0.1","SpaDecoder-1.0","SpaDecoder-10.0"],"paddingInner":0,"paddingOuter":0}}
 },
 "layer":[
  {"mark":{"type":"bar"},"encoding":{
    "y":{"field":"v","type":"quantitative","scale":{"domain":[0,0.176],"nice":false},"axis":{"title":"Aver JSD","values":[0,0.05,0.1,0.15],"format":".2f","grid":false,"labelOverlap":false,"labelFontSize":12,"titleFontSize":12,"tickSize":3.5,"labelPadding":2,"titlePadding":0}},
    "color":{"field":"set","type":"nominal","sort":null,"scale":{"domain":["SpaDecoder-0.0","SpaDecoder-0.001","SpaDecoder-0.01","SpaDecoder-0.1","SpaDecoder-1.0","SpaDecoder-10.0"],"range":["#1f77b4","#ff7f0e","#2ca02c","#d62728","#9467bd","#8c564b"]},
      "legend":{"title":"Parameter Setting","orient":"none","legendX":33,"legendY":141,"direction":"horizontal","columns":3,"titleOrient":"left","titleAnchor":"start","titlePadding":10,"titleFontSize":12,"labelFontSize":12,"symbolType":"M-1,-0.67H3V0.67H-1Z","symbolSize":225,"symbolStrokeWidth":0,"symbolOpacity":1,"labelOffset":19,"columnPadding":14,"rowPadding":1,"padding":0,"labelLimit":300}}}},
  {"mark":{"type":"rule","color":"#222","opacity":0.7,"strokeWidth":1},"encoding":{"y":{"field":"lo","type":"quantitative","axis":{"title":"Aver JSD","values":[0,0.05,0.1,0.15],"format":".2f","grid":false,"labelOverlap":false,"labelFontSize":12,"titleFontSize":12,"tickSize":3.5,"labelPadding":2,"titlePadding":0}},"y2":{"field":"hi"}}},
  {"mark":{"type":"tick","orient":"horizontal","color":"#222","opacity":0.7,"size":5,"thickness":1},"encoding":{"y":{"field":"hi","type":"quantitative","axis":{"title":"Aver JSD","values":[0,0.05,0.1,0.15],"format":".2f","grid":false,"labelOverlap":false,"labelFontSize":12,"titleFontSize":12,"tickSize":3.5,"labelPadding":2,"titlePadding":0}}}},
  {"mark":{"type":"tick","orient":"horizontal","color":"#222","opacity":0.7,"size":5,"thickness":1},"encoding":{"y":{"field":"lo","type":"quantitative","axis":{"title":"Aver JSD","values":[0,0.05,0.1,0.15],"format":".2f","grid":false,"labelOverlap":false,"labelFontSize":12,"titleFontSize":12,"tickSize":3.5,"labelPadding":2,"titlePadding":0}}}},
  {"mark":{"type":"text","fontSize":9,"baseline":"bottom","dy":-2,"color":"#000"},"encoding":{"y":{"field":"hi","type":"quantitative","axis":{"title":"Aver JSD","values":[0,0.05,0.1,0.15],"format":".2f","grid":false,"labelOverlap":false,"labelFontSize":12,"titleFontSize":12,"tickSize":3.5,"labelPadding":2,"titlePadding":0}},"text":{"field":"v","type":"quantitative","format":".4f"}}}
 ]},
{"width":13,"height":1,"data":{"values":[]},"mark":{"type":"text"},"encoding":{},"view":{"stroke":null},
 "title":{"text":"b","font":"Liberation Sans","fontSize":22,"fontWeight":"bold","anchor":"start","dx":2,"offset":11}},
{
 "width":483,"height":115,
 "data":{"name":"b"},
 "title":{"text":"Aver JSD:Hyperparameter Bandwidth","fontSize":12,"offset":-5},
 "view":{"stroke":"#b8b8b8"},
 "encoding":{
  "x":{"field":"ds","type":"nominal","sort":null,"scale":{"domain":["Moffitt2018","Choi2023","Haviv2025"],"paddingInner":0.2,"paddingOuter":0.14},"axis":{"title":"Datasets","labelAngle":0,"labelFontSize":12,"titleFontSize":12,"tickSize":3.5,"labelPadding":0,"titlePadding":1}},
  "xOffset":{"field":"set","type":"nominal","sort":null,"scale":{"domain":["SpaDecoder-0.01","SpaDecoder-0.1","SpaDecoder-1.0","SpaDecoder-10.0"],"paddingInner":0,"paddingOuter":0}}
 },
 "layer":[
  {"mark":{"type":"bar"},"encoding":{
    "y":{"field":"v","type":"quantitative","scale":{"domain":[0,0.115],"nice":false},"axis":{"title":"Aver JSD","values":[0,0.05,0.1],"format":".2f","grid":false,"labelOverlap":false,"labelFontSize":12,"titleFontSize":12,"tickSize":3.5,"labelPadding":2,"titlePadding":0}},
    "color":{"field":"set","type":"nominal","sort":null,"scale":{"domain":["SpaDecoder-0.01","SpaDecoder-0.1","SpaDecoder-1.0","SpaDecoder-10.0"],"range":["#1f77b4","#ff7f0e","#2ca02c","#d62728"]},
      "legend":{"title":"Parameter Setting","orient":"none","legendX":0,"legendY":141,"direction":"horizontal","columns":2,"titleOrient":"left","titleAnchor":"start","titlePadding":10,"titleFontSize":12,"labelFontSize":12,"symbolType":"M-1,-0.67H3V0.67H-1Z","symbolSize":225,"symbolStrokeWidth":0,"symbolOpacity":1,"labelOffset":19,"columnPadding":14,"rowPadding":1,"padding":0,"labelLimit":300}}}},
  {"mark":{"type":"rule","color":"#222","opacity":0.7,"strokeWidth":1},"encoding":{"y":{"field":"lo","type":"quantitative","axis":{"title":"Aver JSD","values":[0,0.05,0.1],"format":".2f","grid":false,"labelOverlap":false,"labelFontSize":12,"titleFontSize":12,"tickSize":3.5,"labelPadding":2,"titlePadding":0}},"y2":{"field":"hi"}}},
  {"mark":{"type":"tick","orient":"horizontal","color":"#222","opacity":0.7,"size":5,"thickness":1},"encoding":{"y":{"field":"hi","type":"quantitative","axis":{"title":"Aver JSD","values":[0,0.05,0.1],"format":".2f","grid":false,"labelOverlap":false,"labelFontSize":12,"titleFontSize":12,"tickSize":3.5,"labelPadding":2,"titlePadding":0}}}},
  {"mark":{"type":"tick","orient":"horizontal","color":"#222","opacity":0.7,"size":5,"thickness":1},"encoding":{"y":{"field":"lo","type":"quantitative","axis":{"title":"Aver JSD","values":[0,0.05,0.1],"format":".2f","grid":false,"labelOverlap":false,"labelFontSize":12,"titleFontSize":12,"tickSize":3.5,"labelPadding":2,"titlePadding":0}}}},
  {"mark":{"type":"text","fontSize":9,"baseline":"bottom","dy":-2,"color":"#000"},"encoding":{"y":{"field":"hi","type":"quantitative","axis":{"title":"Aver JSD","values":[0,0.05,0.1],"format":".2f","grid":false,"labelOverlap":false,"labelFontSize":12,"titleFontSize":12,"tickSize":3.5,"labelPadding":2,"titlePadding":0}},"text":{"field":"v","type":"quantitative","format":".4f"}}}
 ]}
],"spacing":2,"resolve":{"scale":{"color":"independent","xOffset":"independent"},"legend":{"color":"independent"}}},
{"hconcat":[
{"width":13,"height":1,"data":{"values":[]},"mark":{"type":"text"},"encoding":{},"view":{"stroke":null},
 "title":{"text":"c","font":"Liberation Sans","fontSize":22,"fontWeight":"bold","anchor":"start","dx":0,"offset":17}},
{
 "width":561,"height":197,
 "title":{"text":"Moffitt2018:Aver JSD","fontSize":18,"offset":0},
 "view":{"stroke":"#777777"},
 "encoding":{
  "x":{"field":"k","type":"nominal","sort":null,"scale":{"type":"point","domain":["Aug-20-3DBW-16","Aug-15-3DBW-16","Aug-10-3DBW-16","Aug-20-3DBW-8","Aug-15-3DBW-8","Aug-10-3DBW-8","Aug-5-3DBW-16","Aug-5-3DBW-8","Aug-15-3DBW-4","Aug-20-3DBW-4","Aug-10-3DBW-4","Aug-5-3DBW-4","Aug-20-3DBW-2","Aug-15-3DBW-2","Aug-10-3DBW-2","Aug-5-3DBW-2"],"padding":0.75},
    "axis":{"title":null,"labelAngle":-45,"labelAlign":"right","labelBaseline":"top","labelFontSize":13,"labelOffset":-4,"labelPadding":1,"tickSize":4,"grid":true,"gridDash":[2,2],"gridColor":"#d0d0d0"}},
  "y":{"field":"v","type":"quantitative","scale":{"domain":[0.023,0.046],"nice":false,"zero":false},
    "axis":{"title":"Aver JSD","titleFontSize":18,"labelFontSize":13,"values":[0.025,0.03,0.035,0.04,0.045],"format":".3f","labelOverlap":false,"tickSize":4,"labelPadding":2,"titlePadding":2,"grid":true,"gridDash":[2,2],"gridColor":"#d0d0d0"}}
 },
 "layer":[
  {"data":{"name":"cp"},"mark":{"type":"circle","size":20,"color":"#808080","opacity":0.5}},
  {"data":{"name":"cm"},"mark":{"type":"line","strokeWidth":1.5,"order":false},"encoding":{"color":{"datum":"Mean Aver JSD","scale":{"range":["#ff0000"]},
    "legend":{"title":null,"orient":"top-left","offset":6,"symbolType":"M-1,0H3M0.64,0A0.36,0.36,0,1,1,1.36,0A0.36,0.36,0,1,1,0.64,0Z","symbolSize":196,"symbolStrokeWidth":1.5,"symbolStrokeColor":"#ff0000","symbolFillColor":"#ff0000","labelFontSize":13,"labelOffset":26,"padding":5,"fillColor":"#f4f4f4","strokeColor":"#9a9a9a","cornerRadius":3}}}},
  {"data":{"name":"cm"},"mark":{"type":"circle","size":28,"color":"#ff0000","opacity":1}},
  {"data":{"name":"cm"},"mark":{"type":"text","fontSize":14,"dy":-11,"color":"#000"},"encoding":{"text":{"field":"v","type":"quantitative","format":".3f"}}}
 ]},
{"width":19,"height":1,"data":{"values":[]},"mark":{"type":"text"},"encoding":{},"view":{"stroke":null},
 "title":{"text":"d","font":"Liberation Sans","fontSize":22,"fontWeight":"bold","anchor":"start","dx":6,"offset":17}},
{
 "width":563,"height":197,
 "title":{"text":"Haviv2025:Aver JSD","fontSize":18,"offset":0},
 "view":{"stroke":"#777777"},
 "encoding":{
  "x":{"field":"k","type":"nominal","sort":null,"scale":{"type":"point","domain":["Aug-20-3DBW-16","Aug-15-3DBW-16","Aug-10-3DBW-16","Aug-5-3DBW-16","Aug-20-3DBW-8","Aug-15-3DBW-8","Aug-10-3DBW-8","Aug-5-3DBW-8","Aug-20-3DBW-4","Aug-15-3DBW-4","Aug-10-3DBW-4","Aug-5-3DBW-4","Aug-20-3DBW-2","Aug-15-3DBW-2","Aug-10-3DBW-2","Aug-5-3DBW-2"],"padding":0.75},
    "axis":{"title":null,"labelAngle":-45,"labelAlign":"right","labelBaseline":"top","labelFontSize":13,"labelOffset":-4,"labelPadding":1,"tickSize":4,"grid":true,"gridDash":[2,2],"gridColor":"#d0d0d0"}},
  "y":{"field":"v","type":"quantitative","scale":{"domain":[0.0847,0.09238],"nice":false,"zero":false},
    "axis":{"title":"Aver JSD","titleFontSize":18,"labelFontSize":13,"values":[0.086,0.088,0.09,0.092],"format":".3f","labelOverlap":false,"tickSize":4,"labelPadding":2,"titlePadding":2,"grid":true,"gridDash":[2,2],"gridColor":"#d0d0d0"}}
 },
 "layer":[
  {"data":{"name":"dp"},"mark":{"type":"circle","size":18,"color":"#808080","opacity":0.45}},
  {"data":{"name":"dm"},"mark":{"type":"line","strokeWidth":1.5,"order":false},"encoding":{"color":{"datum":"Mean Aver JSD","scale":{"range":["#ff0000"]},
    "legend":{"title":null,"orient":"top-left","offset":7,"symbolType":"M-1,0H3M0.64,0A0.36,0.36,0,1,1,1.36,0A0.36,0.36,0,1,1,0.64,0Z","symbolSize":196,"symbolStrokeWidth":1.5,"symbolStrokeColor":"#ff0000","symbolFillColor":"#ff0000","labelFontSize":13,"labelOffset":26,"padding":5,"fillColor":"#f4f4f4","strokeColor":"#9a9a9a","cornerRadius":3}}}},
  {"data":{"name":"dm"},"mark":{"type":"circle","size":28,"color":"#ff0000","opacity":1}},
  {"data":{"name":"dm"},"transform":[{"filter":"datum.v < 0.089"}],"mark":{"type":"text","fontSize":14,"dy":-31,"color":"#000"},"encoding":{"text":{"field":"v","type":"quantitative","format":".3f"}}},
  {"data":{"name":"dm"},"transform":[{"filter":"datum.v >= 0.089"}],"mark":{"type":"text","fontSize":14,"dy":-7,"color":"#000"},"encoding":{"text":{"field":"v","type":"quantitative","format":".3f"}}}
 ]}
],"spacing":0,"resolve":{"scale":{"color":"independent","xOffset":"independent"},"legend":{"color":"independent"}}}
],
"config":{
 "font":"DejaVu Sans",
 "view":{"stroke":"#b8b8b8"},
 "axis":{"domain":false,"labelColor":"#000","titleColor":"#000","tickColor":"#000","titleFontWeight":"normal","labelFont":"DejaVu Sans","titleFont":"DejaVu Sans"},
 "legend":{"labelFont":"DejaVu Sans","titleFont":"DejaVu Sans","labelColor":"#000","titleColor":"#000","titleFontWeight":"normal"},
 "title":{"font":"DejaVu Sans","color":"#000","fontWeight":"normal"}
}
}
